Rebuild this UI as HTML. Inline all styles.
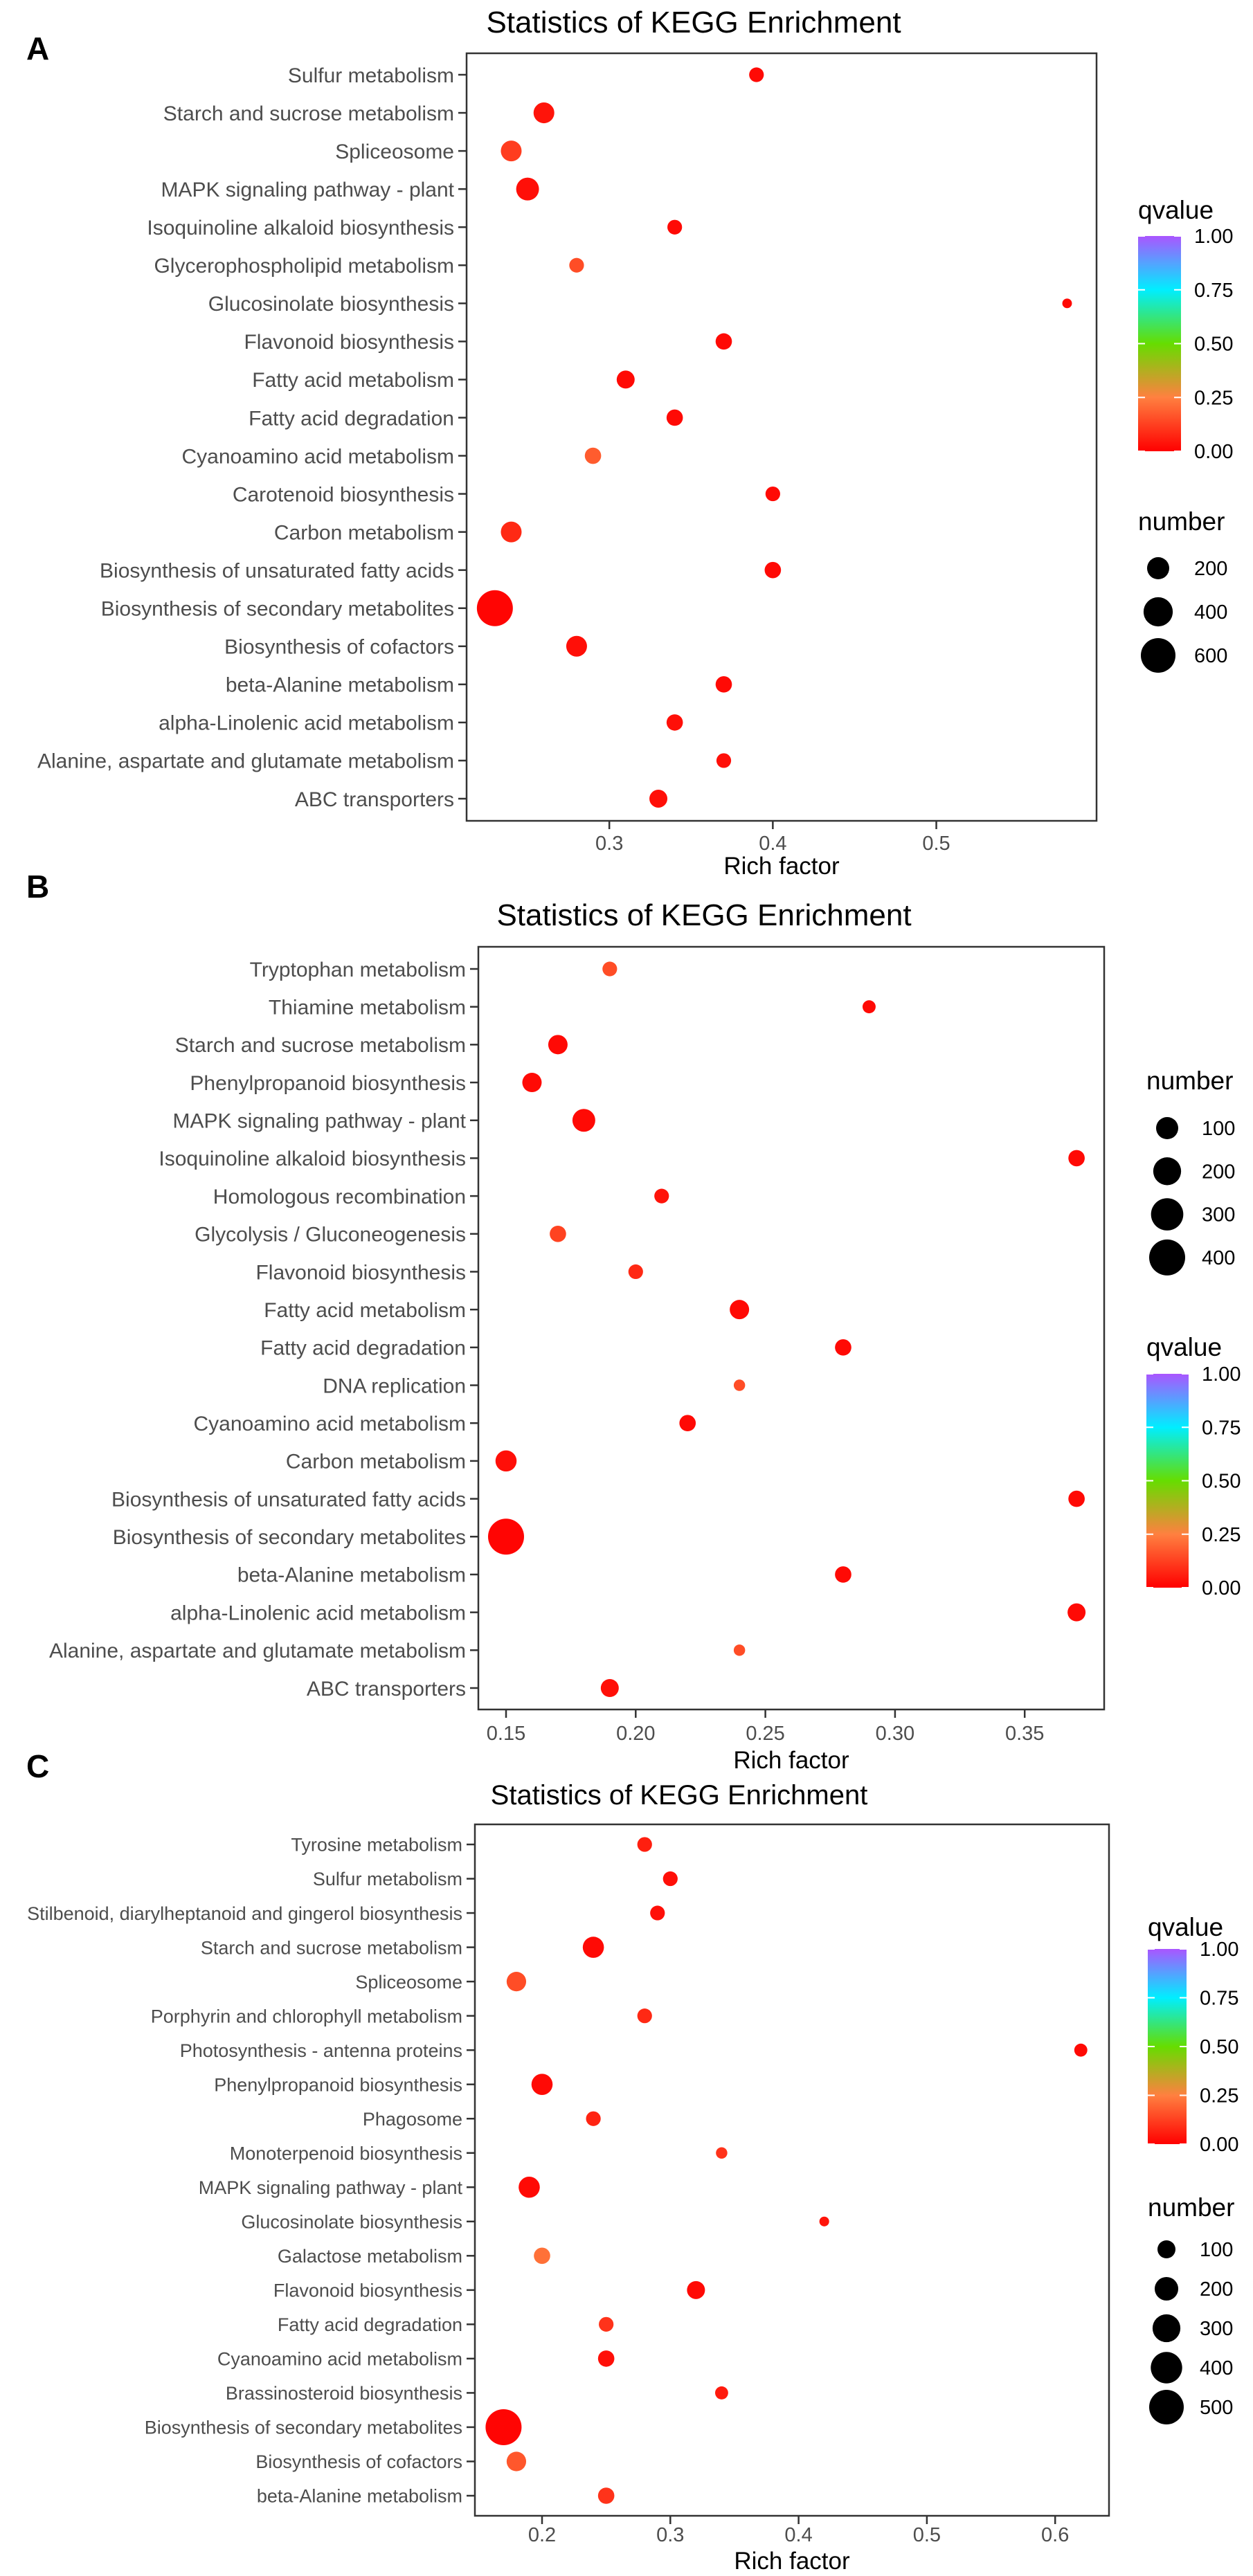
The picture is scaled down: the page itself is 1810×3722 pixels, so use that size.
<!DOCTYPE html>
<html><head><meta charset="utf-8"><style>
html,body{margin:0;padding:0;background:#fff;}
svg{display:block;font-family:"Liberation Sans",Arial,sans-serif;}
</style></head><body>
<svg id="chart" width="1810" height="3722" viewBox="0 0 1810 3722" xmlns="http://www.w3.org/2000/svg">
<defs>
<linearGradient id="qgrad" x1="0" y1="1" x2="0" y2="0">
<stop offset="0" stop-color="#ff0000"/><stop offset="0.25" stop-color="#ff8040"/><stop offset="0.5" stop-color="#66dd00"/><stop offset="0.75" stop-color="#00eeff"/><stop offset="1" stop-color="#aa55ff"/>
</linearGradient>
</defs>
</svg>
<script>
// Panel A data
const catsA = ["Sulfur metabolism","Starch and sucrose metabolism","Spliceosome","MAPK signaling pathway - plant","Isoquinoline alkaloid biosynthesis","Glycerophospholipid metabolism","Glucosinolate biosynthesis","Flavonoid biosynthesis","Fatty acid metabolism","Fatty acid degradation","Cyanoamino acid metabolism","Carotenoid biosynthesis","Carbon metabolism","Biosynthesis of unsaturated fatty acids","Biosynthesis of secondary metabolites","Biosynthesis of cofactors","beta-Alanine metabolism","alpha-Linolenic acid metabolism","Alanine, aspartate and glutamate metabolism","ABC transporters"];
const richA = [0.39,0.26,0.24,0.25,0.34,0.28,0.58,0.37,0.31,0.34,0.29,0.40,0.24,0.40,0.23,0.28,0.37,0.34,0.37,0.33];
const numA = [63,169,169,216,63,63,14,87,114,87,87,63,169,87,657,169,87,87,63,114];
const qA = [0.02,0.04,0.12,0.03,0.02,0.15,0.02,0.02,0.02,0.02,0.18,0.02,0.08,0.02,0.01,0.03,0.02,0.03,0.03,0.03];
const ticksA = [0.3,0.4,0.5];
const sizeLegA = [200,400,600];
// Panel B data
const catsB = ["Tryptophan metabolism","Thiamine metabolism","Starch and sucrose metabolism","Phenylpropanoid biosynthesis","MAPK signaling pathway - plant","Isoquinoline alkaloid biosynthesis","Homologous recombination","Glycolysis / Gluconeogenesis","Flavonoid biosynthesis","Fatty acid metabolism","Fatty acid degradation","DNA replication","Cyanoamino acid metabolism","Carbon metabolism","Biosynthesis of unsaturated fatty acids","Biosynthesis of secondary metabolites","beta-Alanine metabolism","alpha-Linolenic acid metabolism","Alanine, aspartate and glutamate metabolism","ABC transporters"];
const richB = [0.19,0.29,0.17,0.16,0.18,0.37,0.21,0.17,0.20,0.24,0.28,0.24,0.22,0.15,0.37,0.15,0.28,0.37,0.24,0.19];
const numB = [21,12,64,64,110,34,21,34,21,64,34,5,34,86,34,400,34,49,5,49];
const qB = [0.15,0.02,0.02,0.02,0.02,0.02,0.04,0.13,0.08,0.02,0.02,0.15,0.02,0.03,0.02,0.01,0.02,0.02,0.15,0.03];
const ticksB = [0.15,0.20,0.25,0.30,0.35];
const tickLabB = ["0.15","0.20","0.25","0.30","0.35"];
const sizeLegB = [100,200,300,400];
// Panel C data
const catsC = ["Tyrosine metabolism","Sulfur metabolism","Stilbenoid, diarylheptanoid and gingerol biosynthesis","Starch and sucrose metabolism","Spliceosome","Porphyrin and chlorophyll metabolism","Photosynthesis - antenna proteins","Phenylpropanoid biosynthesis","Phagosome","Monoterpenoid biosynthesis","MAPK signaling pathway - plant","Glucosinolate biosynthesis","Galactose metabolism","Flavonoid biosynthesis","Fatty acid degradation","Cyanoamino acid metabolism","Brassinosteroid biosynthesis","Biosynthesis of secondary metabolites","Biosynthesis of cofactors","beta-Alanine metabolism"];
const richC = [0.28,0.30,0.29,0.24,0.18,0.28,0.62,0.20,0.24,0.34,0.19,0.42,0.20,0.32,0.25,0.25,0.34,0.17,0.18,0.25];
const numC = [57,57,57,153,124,57,40,153,57,26,153,15,77,100,57,77,40,548,124,77];
const qC = [0.06,0.03,0.03,0.02,0.15,0.08,0.02,0.02,0.07,0.10,0.02,0.04,0.22,0.02,0.10,0.03,0.05,0.01,0.17,0.10];
const ticksC = [0.2,0.3,0.4,0.5,0.6];
const sizeLegC = [100,200,300,400,500];
const qTicks = [0,0.25,0.5,0.75,1];
const qTickLab = ["0.00","0.25","0.50","0.75","1.00"];

const NS="http://www.w3.org/2000/svg";
const svg=document.getElementById('chart');
function mk(tag,attrs,parent,text){const e=document.createElementNS(NS,tag);for(const k in attrs)e.setAttribute(k,attrs[k]);if(text!==undefined)e.textContent=text;(parent||svg).appendChild(e);return e;}
const stops=[[0,[255,0,0]],[0.25,[255,128,64]],[0.5,[102,221,0]],[0.75,[0,238,255]],[1,[170,85,255]]];
function qColor(q){for(let i=0;i<stops.length-1;i++){const a=stops[i],b=stops[i+1];if(q<=b[0]){const t=(q-a[0])/(b[0]-a[0]);const c=a[1].map((v,j)=>Math.round(v+(b[1][j]-v)*t));return `rgb(${c[0]},${c[1]},${c[2]})`;}}return 'rgb(170,85,255)';}

function panel(cfg){
  const g=mk('g',{});
  
  
  const pl=mk('text',{x:38,y:cfg.letterY,'font-size':46,'font-weight':'bold',fill:'#000'},g,cfg.letter);
  
  
  const t=mk('text',{x:cfg.titleX,y:cfg.titleY,'font-size':cfg.titleSize,'text-anchor':'middle',fill:'#000'},g,'Statistics of KEGG Enrichment');
  
  
  const L=cfg.left,R=cfg.right,T=cfg.top,B=cfg.bottom;
  const xs=v=>L+(v-cfg.xmin)/(cfg.xmax-cfg.xmin)*(R-L);
  const n=cfg.cats.length;
  const ys=i=>cfg.row0+i*(cfg.rowN-cfg.row0)/(n-1);
  const rs=v=>cfg.r0+cfg.k*Math.sqrt(v);
  const box=mk('rect',{x:L,y:T,width:R-L,height:B-T,fill:'#fff',stroke:'#333','stroke-width':2.5},g);
  
  
  cfg.cats.forEach((c,i)=>{
    const y=ys(i);
    mk('line',{x1:L-12,x2:L,y1:y,y2:y,stroke:'#333','stroke-width':2.5},g);
    const lb=mk('text',{x:L-18,y:y+cfg.lab*0.36,'font-size':cfg.lab,'text-anchor':'end',fill:'#4d4d4d'},g,c);
    
    
    const d=mk('circle',{cx:xs(cfg.rich[i]),cy:y,r:rs(cfg.num[i]),fill:qColor(cfg.q[i])},g);
    
    
  });
  cfg.ticks.forEach((v,i)=>{
    const x=xs(v);
    mk('line',{x1:x,x2:x,y1:B,y2:B+12,stroke:'#333','stroke-width':2.5},g);
    const tl=mk('text',{x:x,y:cfg.tickY,'font-size':29,'text-anchor':'middle',fill:'#4d4d4d'},g,cfg.tickLab[i]);
    
    
  });
  const xt=mk('text',{x:(L+R)/2,y:cfg.xlabY,'font-size':35,'text-anchor':'middle',fill:'#000'},g,'Rich factor');
  
  
  // q legend
  const qg=mk('g',{},g);
  
  
  mk('text',{x:cfg.legX,y:cfg.qTitleY,'font-size':37,fill:'#000'},qg,'qvalue');
  const cb=cfg.cbTop,cbB=cfg.cbBot,cw=cfg.cbW;
  mk('rect',{x:cfg.legX,y:cb,width:cw,height:cbB-cb,fill:'url(#qgrad)'},qg);
  qTicks.forEach((v,i)=>{
    const y=cbB-v*(cbB-cb);
    mk('line',{x1:cfg.legX,x2:cfg.legX+10,y1:y,y2:y,stroke:'#fff','stroke-width':2},qg);
    mk('line',{x1:cfg.legX+cw-10,x2:cfg.legX+cw,y1:y,y2:y,stroke:'#fff','stroke-width':2},qg);
    mk('text',{x:cfg.legX+cw+19,y:y+10,'font-size':29,fill:'#000'},qg,qTickLab[i]);
  });
  // size legend
  const sg=mk('g',{},g);
  
  
  mk('text',{x:cfg.legX,y:cfg.nTitleY,'font-size':37,fill:'#000'},sg,'number');
  cfg.sizeLeg.forEach((v,i)=>{
    const y=cfg.sl0+i*cfg.slStep;
    mk('circle',{cx:cfg.legX+cfg.slDx,cy:y,r:rs(v),fill:'#000'},sg);
    mk('text',{x:cfg.legX+cw+19,y:y+10,'font-size':29,fill:'#000'},sg,String(v));
  });
}

panel({name:'panel-a',letter:'A',letterY:86,titleX:1002,titleY:47,titleSize:44,left:674,right:1584,top:77,bottom:1186,xmin:0.2127,xmax:0.598,row0:108,rowN:1154,cats:catsA,rich:richA,num:numA,q:qA,ticks:ticksA,tickLab:ticksA.map(v=>v.toFixed(1)),tickY:1228,xlabY:1263,lab:30,r0:3.7,k:0.87,legX:1644,cbW:62,qTitleY:316,cbTop:341,cbBot:652,nTitleY:766,sizeLeg:sizeLegA,sl0:821,slStep:63,slDx:29});
panel({name:'panel-b',letter:'B',letterY:1297,titleX:1017,titleY:1337,titleSize:44,left:691,right:1595,top:1368,bottom:2470,xmin:0.15-(731-691)/3746,xmax:0.15+(1595-731)/3746,row0:1400,rowN:2439,cats:catsB,rich:richB,num:numB,q:qB,ticks:ticksB,tickLab:tickLabB,tickY:2514,xlabY:2555,lab:30,r0:6,k:1,legX:1656,cbW:61,qTitleY:1959,cbTop:1985,cbBot:2294,nTitleY:1574,sizeLeg:sizeLegB,sl0:1630,slStep:62.3,slDx:30});
panel({name:'panel-c',letter:'C',letterY:2568,titleX:981,titleY:2607,titleSize:40,left:686,right:1602,top:2636,bottom:3635,xmin:0.2-(783-686)/1853,xmax:0.2+(1602-783)/1853,row0:2665,rowN:3606,cats:catsC,rich:richC,num:numC,q:qC,ticks:ticksC,tickLab:ticksC.map(v=>v.toFixed(1)),tickY:3672,xlabY:3712,lab:27,r0:3.3,k:0.97,legX:1658,cbW:56,qTitleY:2797,cbTop:2816,cbBot:3098,nTitleY:3202,sizeLeg:sizeLegC,sl0:3250,slStep:57,slDx:27});
</script>
</body></html>
